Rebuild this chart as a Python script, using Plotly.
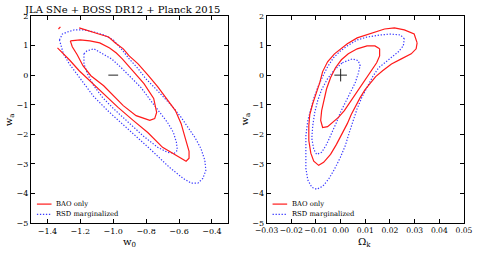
import plotly.graph_objects as go

# ---------------- data ----------------
# Left panel: w0 vs wa
L_red68_w0 = [-1.261, -1.201, -1.142, -1.082, -1.022, -0.981, -0.945, -0.903, -0.813, -0.754,
              -0.736, -0.748, -0.778, -0.808, -0.861, -0.939, -1.058, -1.136, -1.184, -1.219, -1.249, -1.261]
L_red68_wa = [1.16, 1.19, 1.16, 1.09, 0.92, 0.75, 0.55, 0.28, -0.29, -0.79,
              -1.26, -1.47, -1.53, -1.47, -1.37, -1.03, -0.36, -0.02, 0.32, 0.69, 0.96, 1.16]

L_red95_w0 = [-1.339, -1.267, -1.207, -1.088, -0.969, -0.879, -0.790, -0.700, -0.610, -0.557,
              -0.539, -0.539, -0.563, -0.587, -0.622, -0.670, -0.730, -0.790, -0.849, -0.903,
              -0.939, -0.987, -1.028, -1.088, -1.130, -1.207, None, -1.333, -1.321]
L_red95_wa = [0.92, 0.52, 0.15, -0.49, -1.10, -1.53, -1.94, -2.44, -2.75, -2.91,
              -2.81, -2.58, -2.11, -1.64, -1.20, -0.83, -0.39, 0.01, 0.38, 0.65,
              0.89, 1.09, 1.29, 1.39, 1.46, 1.60, None, 1.56, 1.63]

L_blue68_w0 = [-1.178, -1.160, -1.118, -1.070, -1.010, -0.951, -0.891, -0.831, -0.772, -0.712,
               -0.670, -0.634, -0.616, -0.610, -0.628, -0.670, -0.730, -0.819, -0.921, -0.999,
               -1.064, -1.118, -1.154, -1.178, -1.178]
L_blue68_wa = [0.72, 0.82, 0.89, 0.75, 0.55, 0.25, -0.09, -0.42, -0.86, -1.30,
               -1.60, -1.94, -2.27, -2.54, -2.64, -2.61, -2.44, -2.05, -1.54, -1.13,
               -0.76, -0.36, 0.01, 0.38, 0.72]

L_blue95_w0 = [-1.327, -1.321, -1.309, -1.279, -1.237, -1.178, -1.118, -1.058, -0.999, -0.951,
               -0.903, -0.849, -0.802, -0.742, -0.694, -0.640, -0.587, -0.539, -0.503, -0.467,
               -0.443, -0.437, -0.455, -0.485, -0.527, -0.575, -0.658, -0.760, -0.849, -0.939,
               -1.028, -1.118, -1.207, -1.267, -1.303, -1.327]
L_blue95_wa = [1.19, 1.26, 1.39, 1.46, 1.53, 1.53, 1.46, 1.36, 1.19, 0.89,
               0.55, 0.22, -0.12, -0.46, -0.76, -1.06, -1.43, -1.80, -2.11, -2.48,
               -2.88, -3.22, -3.49, -3.65, -3.65, -3.49, -3.12, -2.58, -2.14, -1.70,
               -1.23, -0.73, -0.05, 0.38, 0.72, 1.19]

# Right panel: Omega_k vs wa
R_red68_ok = [0.0158, 0.0139, 0.0107, 0.0067, 0.0031, 0.0003, -0.0021, -0.0041, -0.0057, -0.0069,
              -0.0077, -0.0081, -0.0073, -0.0053, -0.0033, -0.0009, 0.0015, 0.0043, 0.0071, 0.0099,
              0.0127, 0.0146, 0.0158, 0.0158]
R_red68_wa = [0.89, 0.99, 0.99, 0.89, 0.72, 0.52, 0.25, -0.09, -0.46, -0.86,
              -1.20, -1.53, -1.77, -1.74, -1.60, -1.43, -1.20, -0.86, -0.52, -0.19,
              0.15, 0.42, 0.65, 0.89]

R_red95_ok = [0.0310, 0.0298, 0.0258, 0.0218, 0.0178, 0.0139, 0.0099, 0.0067, 0.0027, -0.0001,
              -0.0025, -0.0053, -0.0073, -0.0085, -0.0101, -0.0113, -0.0125, -0.0129, -0.0129, -0.0121,
              -0.0109, -0.0089, -0.0069, -0.0041, -0.0017, 0.0007, 0.0027, 0.0043, 0.0059, 0.0079,
              0.0099, 0.0119, 0.0142, 0.0170, 0.0206, 0.0246, 0.0286, 0.0306, 0.0310]
R_red95_wa = [1.09, 1.39, 1.53, 1.60, 1.56, 1.46, 1.36, 1.26, 1.06, 0.89,
              0.72, 0.45, 0.12, -0.26, -0.63, -0.96, -1.33, -1.70, -2.21, -2.64,
              -2.91, -3.05, -2.95, -2.68, -2.34, -1.97, -1.64, -1.33, -1.06, -0.76,
              -0.49, -0.29, -0.05, 0.15, 0.38, 0.55, 0.72, 0.89, 1.09]

R_blue68_ok = [0.0007, 0.0047, 0.0071, 0.0079, 0.0071, 0.0059, 0.0039, 0.0019, -0.0001, -0.0017,
               -0.0037, -0.0057, -0.0077, -0.0097, -0.0109, -0.0117, -0.0113, -0.0105, -0.0093, -0.0077,
               -0.0053, -0.0025, 0.0007]
R_blue68_wa = [0.42, 0.55, 0.49, 0.32, 0.05, -0.26, -0.59, -0.93, -1.26, -1.60,
               -1.97, -2.34, -2.61, -2.68, -2.51, -2.14, -1.70, -1.26, -0.86, -0.49,
               -0.12, 0.18, 0.42]

R_blue95_ok = [0.0258, 0.0242, 0.0202, 0.0162, 0.0107, 0.0067, 0.0027, -0.0001, -0.0029, -0.0053,
               -0.0073, -0.0093, -0.0109, -0.0121, -0.0133, -0.0141, -0.0141, -0.0141, -0.0133, -0.0117,
               -0.0097, -0.0073, -0.0049, -0.0025, -0.0001, 0.0019, 0.0035, 0.0051, 0.0067, 0.0087,
               0.0107, 0.0130, 0.0154, 0.0182, 0.0210, 0.0234, 0.0254, 0.0258]
R_blue95_wa = [1.23, 1.36, 1.39, 1.36, 1.29, 1.19, 0.99, 0.82, 0.59, 0.28,
               -0.05, -0.42, -0.79, -1.16, -1.53, -2.04, -2.54, -3.15, -3.55, -3.79,
               -3.86, -3.76, -3.52, -3.18, -2.78, -2.38, -1.94, -1.53, -1.13, -0.73,
               -0.39, -0.05, 0.25, 0.45, 0.62, 0.79, 0.99, 1.23]

center_left = ([-1.0], [0.0])
center_right = ([0.0], [0.0])

title_text = "JLA SNe + BOSS DR12 + Planck 2015"
legend_labels = ["BAO only", "RSD marginalized"]

# ---------------- styles ----------------
RED = "#ff1a1a"
BLUE = "#3a3aff"
FONT = "DejaVu Serif"
DOT = "1.3px,1.7px"

fig = go.Figure()

def add_line(x, y, color, dash, xa, ya):
    fig.add_trace(go.Scatter(x=x, y=y, mode="lines", xaxis=xa, yaxis=ya,
                             line=dict(color=color, width=1.2, dash=dash),
                             showlegend=False, hoverinfo="skip", connectgaps=False))

add_line(L_blue95_w0, L_blue95_wa, BLUE, DOT, "x", "y")
add_line(L_blue68_w0, L_blue68_wa, BLUE, DOT, "x", "y")
add_line(L_red95_w0, L_red95_wa, RED, "solid", "x", "y")
add_line(L_red68_w0, L_red68_wa, RED, "solid", "x", "y")

add_line(R_blue95_ok, R_blue95_wa, BLUE, DOT, "x2", "y2")
add_line(R_blue68_ok, R_blue68_wa, BLUE, DOT, "x2", "y2")
add_line(R_red95_ok, R_red95_wa, RED, "solid", "x2", "y2")
add_line(R_red68_ok, R_red68_wa, RED, "solid", "x2", "y2")

fig.add_trace(go.Scatter(x=center_left[0], y=center_left[1], mode="markers", xaxis="x", yaxis="y",
                         marker=dict(symbol="line-ew", size=7, line=dict(width=1, color="#222")),
                         showlegend=False, hoverinfo="skip"))
fig.add_trace(go.Scatter(x=center_right[0], y=center_right[1], mode="markers", xaxis="x2", yaxis="y2",
                         marker=dict(symbol="cross-thin", size=9, line=dict(width=1, color="#222")),
                         showlegend=False, hoverinfo="skip"))

axis_common = dict(showgrid=False, zeroline=False, showline=True, linecolor="black", linewidth=1,
                   mirror="ticks", ticks="inside", ticklen=4, tickwidth=1, tickcolor="black",
                   tickangle=0, tickfont=dict(family=FONT, size=8, color="black"))

fig.update_layout(
    width=485, height=253,
    margin=dict(l=31, r=13, t=15, b=30),
    paper_bgcolor="white", plot_bgcolor="white",
    showlegend=False,
    xaxis=dict(domain=[0, 0.4558], range=[-1.5, -0.3], tick0=-1.4, dtick=0.2, tickformat=".1f",
               anchor="y", **axis_common),
    yaxis=dict(domain=[0, 1], range=[-5, 2], dtick=1, anchor="x", **axis_common),
    xaxis2=dict(domain=[0.5442, 1], range=[-0.03, 0.05], tick0=-0.03, dtick=0.01, tickformat=".2f",
                anchor="y2", **axis_common),
    yaxis2=dict(domain=[0, 1], range=[-5, 2], dtick=1, anchor="x2", **axis_common),
)
fig.update_xaxes(tickfont=dict(size=7.6), selector=dict(anchor="y2"))

ann = []
ann.append(dict(text=title_text, xref="paper", yref="paper", x=0.2098, y=1.032,
                xanchor="center", yanchor="middle", showarrow=False,
                font=dict(family=FONT, size=10, color="black")))
for xc, lab in [(0.2286, "w<sub>0</sub>"), (0.7710, "Ω<sub>k</sub>")]:
    ann.append(dict(text=lab, xref="paper", yref="paper", x=xc, y=-0.095,
                    xanchor="center", yanchor="middle", showarrow=False,
                    font=dict(family=FONT, size=10, color="black")))
for xc in [-0.0488, 0.4943]:
    ann.append(dict(text="w<sub>a</sub>", xref="paper", yref="paper", x=xc, y=0.5,
                    xanchor="center", yanchor="middle", showarrow=False, textangle=-90,
                    font=dict(family=FONT, size=10, color="black")))

shapes = []
for xd, yd in [("x domain", "y domain"), ("x2 domain", "y2 domain")]:
    for row, (lab, col, dash) in enumerate(zip(legend_labels, [RED, BLUE], ["solid", DOT])):
        yy = 0.0913 - row * 0.05
        shapes.append(dict(type="line", xref=xd, yref=yd, x0=0.030, x1=0.104, y0=yy, y1=yy,
                           line=dict(color=col, width=1.2, dash=dash)))
        ann.append(dict(text=lab, xref=xd, yref=yd, x=0.119, y=yy, xanchor="left", yanchor="middle",
                        showarrow=False, font=dict(family=FONT, size=6.8, color="black")))

fig.update_layout(annotations=ann, shapes=shapes)

# remove the default page margin so the figure sits at the window's top-left corner
fig.write_html("out.html", config={"displayModeBar": False},
               post_script="document.body.style.margin='0';")
